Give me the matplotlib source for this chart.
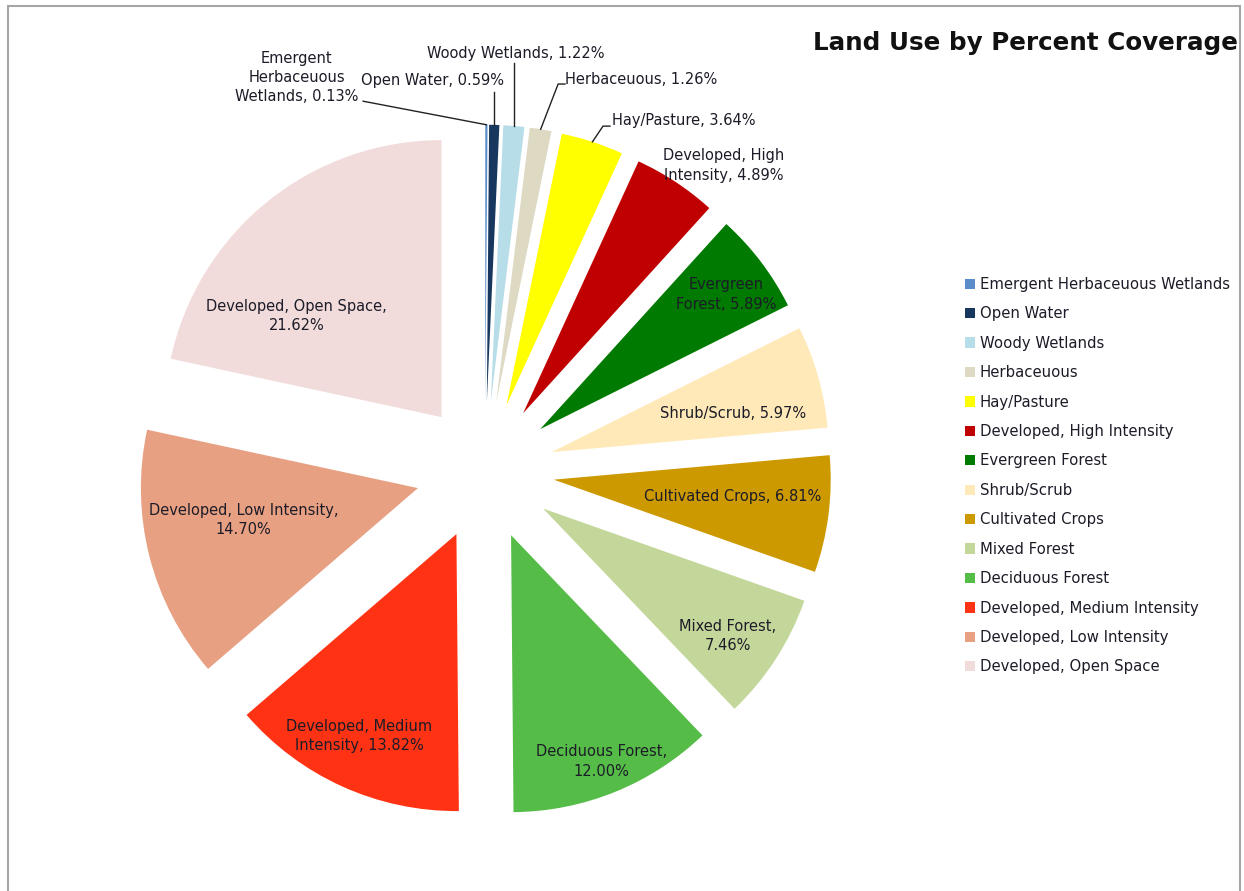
# Land use pie chart - exploded slices, labels inside / outside with leader lines

import numpy as np
import matplotlib.pyplot as plt
from matplotlib.patches import Rectangle

# data
categories = ['Emergent Herbaceuous Wetlands', 'Open Water', 'Woody Wetlands',
              'Herbaceuous', 'Hay/Pasture', 'Developed, High Intensity',
              'Evergreen Forest', 'Shrub/Scrub', 'Cultivated Crops', 'Mixed Forest',
              'Deciduous Forest', 'Developed, Medium Intensity',
              'Developed, Low Intensity', 'Developed, Open Space']
percents = [0.13, 0.59, 1.22, 1.26, 3.64, 4.89, 5.89, 5.97, 6.81, 7.46,
            12.00, 13.82, 14.70, 21.62]
slice_labels = ['Emergent\nHerbaceuous\nWetlands, 0.13%', 'Open Water, 0.59%',
                'Woody Wetlands, 1.22%', 'Herbaceuous, 1.26%', 'Hay/Pasture, 3.64%',
                'Developed, High\nIntensity, 4.89%', 'Evergreen\nForest, 5.89%',
                'Shrub/Scrub, 5.97%', 'Cultivated Crops, 6.81%', 'Mixed Forest,\n7.46%',
                'Deciduous Forest,\n12.00%', 'Developed, Medium\nIntensity, 13.82%',
                'Developed, Low Intensity,\n14.70%', 'Developed, Open Space,\n21.62%']
colors = ['#5B8DC9', '#17375E', '#B7DDE8', '#DDD9C3', '#FFFF00', '#C00000',
          '#007A00', '#FFE9B8', '#CC9900', '#C4D79B', '#56BC48', '#FF3314',
          '#E8A083', '#F2DCDB']

txt_color = '#1C1C28'

# label layout (pie radius units)
# labels placed along the slice: (distance from pie centre, angle shift in deg)
polar_pos = {5: (1.40, -4.6), 6: (1.08, -1.0), 7: (0.92, -2.7), 8: (0.90, 1.4),
             9: (1.06, -1.4), 10: (1.13, -0.2), 11: (1.06, -1.0),
             12: (0.89, -2.8), 13: (0.88, 11.6)}
# labels outside with leader lines: text xy, ha, leader end
outer_pos = {0: ((-0.68, 1.42), 'center', (-0.44, 1.335)),
             1: ((-0.19, 1.408), 'center', None),
             2: ((0.112, 1.509), 'center', None),
             3: ((0.289, 1.415), 'left', (0.289, 1.397)),
             4: ((0.458, 1.264), 'left', (0.451, 1.245))}
vert_end = {1: 1.368, 2: 1.473}

fig = plt.figure(figsize=(12.44, 8.91), dpi=100)
ax = fig.add_axes([0, 0, 1, 1])

wedges, _ = ax.pie(percents, colors=colors, startangle=90, counterclock=False,
                   explode=[0.25] * len(percents), radius=1.0,
                   wedgeprops=dict(linewidth=0))

# pie sets its own limits, so set them afterwards
ax.set_xlim(-485 / 277, (1244 - 485) / 277)
ax.set_ylim(-(891 - 471) / 277, 471 / 277)
ax.set_aspect('equal')
ax.axis('off')

plt.rcParams['font.family'] = 'DejaVu Sans'
fs = 10.5

for i, w in enumerate(wedges):
    mid = (w.theta1 + w.theta2) / 2
    if i in polar_pos:
        d, shift = polar_pos[i]
        a = np.deg2rad(mid + shift)
        ax.text(d * np.cos(a), d * np.sin(a), slice_labels[i], ha='center',
                va='center', fontsize=fs, color=txt_color, linespacing=1.35)
    else:
        (tx, ty), ha, end = outer_pos[i]
        ax.text(tx, ty, slice_labels[i], ha=ha, va='center', fontsize=fs,
                color=txt_color, linespacing=1.35)
        a = np.deg2rad(mid)
        cx, cy = w.center
        sx, sy = cx + np.cos(a), cy + np.sin(a)
        if i in vert_end:
            ax.plot([sx, sx], [sy, vert_end[i]], color='#222222', lw=1)
        elif ha == 'left':
            ax.plot([sx, end[0] - 0.025, end[0]], [sy, end[1], end[1]],
                    color='#222222', lw=1)
        else:
            ax.plot([sx, end[0]], [sy, end[1]], color='#222222', lw=1)

# title
fig.text(1238 / 1244, 1 - 43 / 891, 'Land Use by Percent Coverage', ha='right',
         va='center', fontsize=17.7, fontweight='bold', color='#111111')

# legend
leg = fig.legend(wedges, categories, loc='upper left',
                 bbox_to_anchor=(965 / 1244, 1 - 277 / 891), frameon=False,
                 fontsize=10.7, handlelength=0.7, handleheight=0.7,
                 handletextpad=0.3, labelspacing=0.97, borderpad=0,
                 borderaxespad=0)
for t in leg.get_texts():
    t.set_color(txt_color)

# outer frame
fig.patches.append(Rectangle((8 / 1244, -0.02), (1240 - 8) / 1244, 1.02 - 6 / 891,
                             transform=fig.transFigure, fill=False,
                             edgecolor='#A6A6A6', linewidth=1.5))

plt.savefig('out.png', dpi=100)
